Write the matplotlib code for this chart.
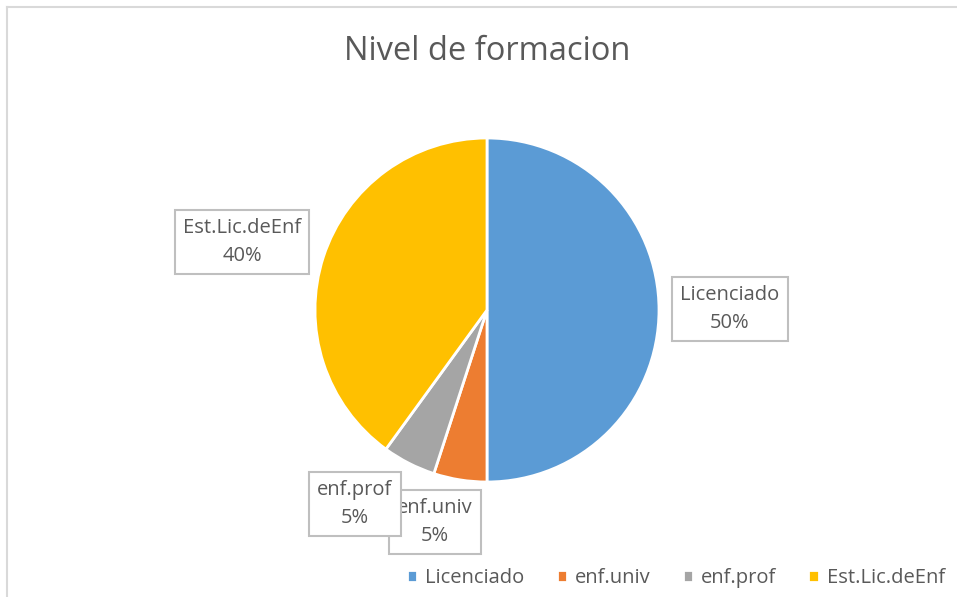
import matplotlib
matplotlib.use("Agg")
import matplotlib.pyplot as plt
from matplotlib.lines import Line2D

# data
categories = ["Licenciado", "enf.univ", "enf.prof", "Est.Lic.deEnf"]
percent = [50, 5, 5, 40]
colors = ["#5B9BD5", "#ED7D31", "#A5A5A5", "#FFC000"]
title = "Nivel de formacion"

W, H = 957, 597
txt_col = "#595959"
plt.rcParams['font.family'] = ['Open Sans', 'DejaVu Sans']

fig = plt.figure(figsize=(W / 100, H / 100), dpi=100)
ax = fig.add_axes([0, 0, 1, 1])

# pie, centred in pixel coordinates (y measured from the bottom)
wedges, _ = ax.pie(percent, colors=colors, startangle=90, counterclock=False,
                   center=(487, H - 310), radius=172, frame=True,
                   wedgeprops=dict(edgecolor='white', linewidth=2))
ax.set_xlim(0, W)
ax.set_ylim(0, H)
ax.set_aspect('equal')
ax.axis('off')

# data labels (box centres in pixels), drawn in this order so enf.prof sits on top
label_pos = {"Licenciado": (730, 309), "enf.univ": (435, 522),
             "enf.prof": (355, 504), "Est.Lic.deEnf": (242, 242)}
for i, cat in enumerate(categories):
    x, y = label_pos[cat]
    ax.text(x, H - y, "%s\n%d%%" % (cat, percent[i]), ha='center', va='center',
            fontsize=14.5, color=txt_col, linespacing=1.55, zorder=5 + i,
            bbox=dict(boxstyle='square,pad=0.4', fc='white', ec='#BFBFBF', lw=1.5))

# title
fig.text(487 / W, 1 - 52 / H, title, ha='center', va='center', fontsize=23.5, color=txt_col)

# legend
fig.legend(wedges, categories, loc='center', bbox_to_anchor=(676 / W, 1 - 578 / H),
           ncol=4, frameon=False, fontsize=14.5, labelcolor=txt_col,
           handlelength=0.5, handleheight=0.5, handletextpad=0.4, columnspacing=1.6)

# chart area border (left and top edges visible)
fig.add_artist(Line2D([7 / W, 7 / W], [0, 1 - 7 / H], color='#D9D9D9', lw=1.5))
fig.add_artist(Line2D([7 / W, 1], [1 - 7 / H, 1 - 7 / H], color='#D9D9D9', lw=1.5))

fig.savefig("out.png", dpi=100)
